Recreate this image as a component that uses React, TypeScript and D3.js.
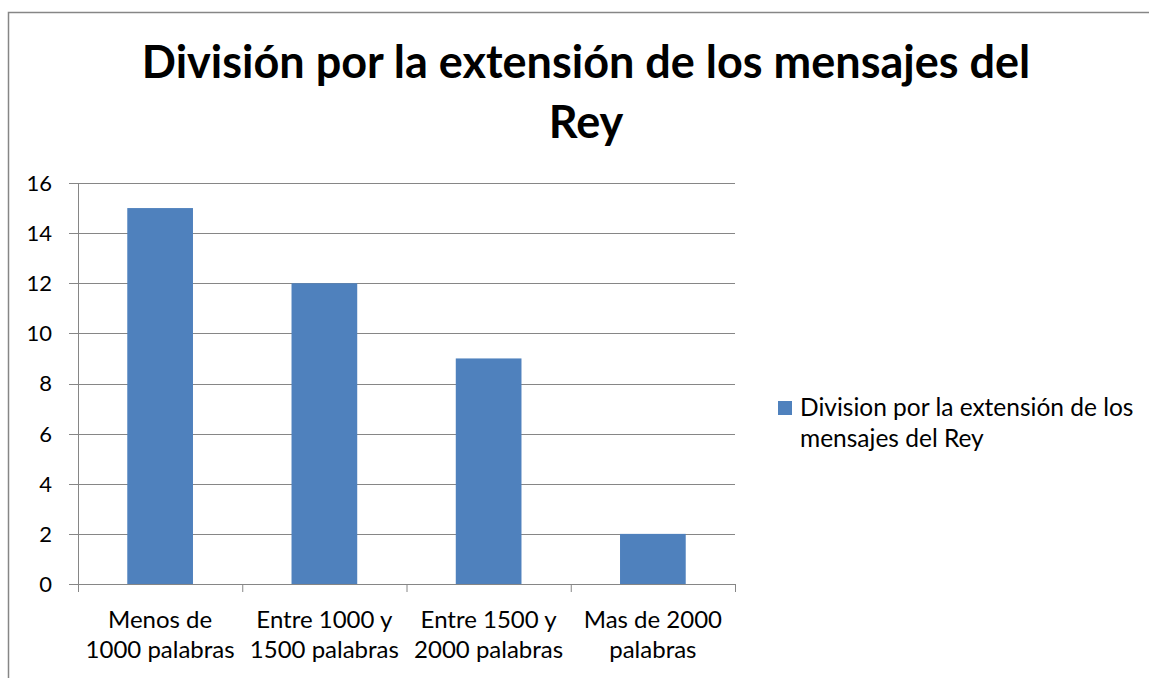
import React from "react";
import * as d3 from "d3";

const categories: string[][] = [
  ["Menos de", "1000 palabras"],
  ["Entre 1000 y", "1500 palabras"],
  ["Entre 1500 y", "2000 palabras"],
  ["Mas de 2000", "palabras"],
];
const values: number[] = [15, 12, 9, 2];
const yTicks: number[] = [0, 2, 4, 6, 8, 10, 12, 14, 16];
const titleLines: string[] = ["División por la extensión de los mensajes del", "Rey"];
const legendLines: string[] = ["Division por la extensión de los", "mensajes del Rey"];

const W = 1149;
const H = 678;
const FONT = "Lato, 'Open Sans', sans-serif";
const BLUE = "#4F81BD";
const GRID = "#868686";

export default function App() {
  const x = d3
    .scaleBand<number>()
    .domain(categories.map((_, i) => i))
    .range([78, 735])
    .paddingInner(0.6)
    .paddingOuter(0.3);
  const xOuter = d3.scaleBand<number>().domain(categories.map((_, i) => i)).range([78, 735]);
  const y = d3.scaleLinear().domain([0, 16]).range([584, 183]);

  return (
    <svg
      width={W}
      height={H}
      style={{ position: "absolute", left: 0, top: 0, background: "#fff" }}
      fontFamily={FONT}
    >
      <rect x={8.5} y={12.5} width={W + 20} height={H + 20} fill="#fff" stroke={GRID} strokeWidth={1.5} />
      {titleLines.map((t, i) => (
        <text key={i} x={586} y={78 + i * 60} textAnchor="middle" fontSize={45} fontWeight="bold" fill="#000">
          {t}
        </text>
      ))}
      {yTicks.map((t) => (
        <g key={t}>
          <line x1={69} x2={735} y1={Math.round(y(t)) + 0.5} y2={Math.round(y(t)) + 0.5} stroke={GRID} strokeWidth={1} />
          <text x={52} y={y(t)} dy="0.36em" textAnchor="end" fontSize={22} fill="#000">
            {t}
          </text>
        </g>
      ))}
      <line x1={78.5} x2={78.5} y1={183} y2={584} stroke={GRID} />
      {values.map((v, i) => (
        <rect key={i} x={x(i)} y={y(v)} width={x.bandwidth()} height={y(0) - y(v)} fill={BLUE} />
      ))}
      {categories.map((_, i) => (
        <line key={"t" + i} x1={xOuter(i)! + 0.5} x2={xOuter(i)! + 0.5} y1={584} y2={592} stroke={GRID} />
      ))}
      <line x1={735.5} x2={735.5} y1={584} y2={592} stroke={GRID} />
      {categories.map((lines, i) =>
        lines.map((l, j) => (
          <text
            key={i + "-" + j}
            x={xOuter(i)! + xOuter.bandwidth() / 2}
            y={628 + j * 30}
            textAnchor="middle"
            fontSize={24}
            fill="#000"
          >
            {l}
          </text>
        ))
      )}
      <rect x={778} y={401} width={14} height={14} fill={BLUE} />
      {legendLines.map((l, i) => (
        <text key={l} x={800} y={416 + i * 31} fontSize={24.5} fill="#000">
          {l}
        </text>
      ))}
    </svg>
  );
}
